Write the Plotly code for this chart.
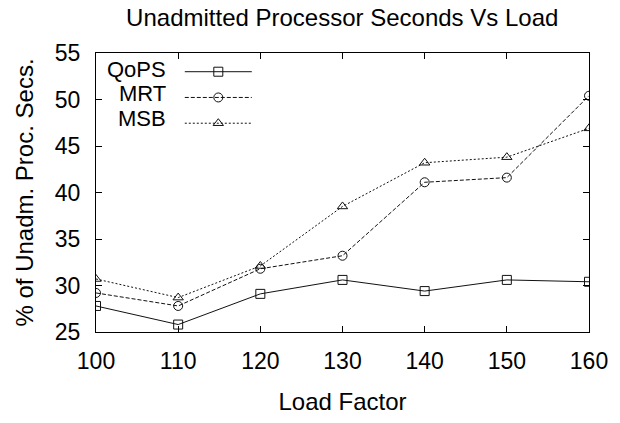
import plotly.graph_objects as go

load_factor = [100, 110, 120, 130, 140, 150, 160]
qops = [27.8, 25.8, 29.1, 30.6, 29.4, 30.6, 30.4]
mrt = [29.2, 27.8, 31.8, 33.2, 41.1, 41.6, 50.4]
msb = [30.7, 28.7, 32.1, 38.5, 43.2, 43.8, 46.9]

series_names = ["QoPS", "MRT", "MSB"]
series_values = [qops, mrt, msb]
symbols = ["square-open", "circle-open", "triangle-up-open"]
dashes = ["solid", "4px,2px", "2px,2px"]

x_ticks = [100, 110, 120, 130, 140, 150, 160]
y_ticks = [25, 30, 35, 40, 45, 50, 55]

FONT = "Liberation Sans, Arial, sans-serif"

fig = go.Figure()
for name, vals, sym, dash in zip(series_names, series_values, symbols, dashes):
    fig.add_trace(go.Scatter(
        x=load_factor, y=vals, name=name, mode="lines+markers",
        line=dict(color="#111", width=1, dash=dash),
        marker=dict(symbol=sym, size=9, color="#111", line=dict(width=1, color="#111")),
    ))

# legend labels (gnuplot style: text right-aligned, sample to the right)
for i, name in enumerate(series_names):
    fig.add_annotation(
        text=name, xref="paper", yref="paper", x=0.146, y=1 - (17.5 + 25.6 * i) / 294,
        xanchor="right", yanchor="middle", showarrow=False,
        font=dict(family=FONT, size=22, color="black"),
    )

fig.update_layout(
    width=620, height=423,
    margin=dict(l=96, r=31, t=53, b=76),
    paper_bgcolor="white", plot_bgcolor="white",
    font=dict(family=FONT, color="black"),
    title=dict(text="Unadmitted Processor Seconds Vs Load", x=0.552, xanchor="center",
               y=0.978, yanchor="top", font=dict(family=FONT, size=24, color="black")),
    showlegend=True,
    legend=dict(x=0.17, y=0.997, xanchor="left", yanchor="top", bgcolor="rgba(0,0,0,0)",
                font=dict(size=17.5, color="rgba(0,0,0,0)"), itemwidth=67,
                tracegroupgap=0),
)
fig.update_xaxes(
    range=[100, 160], tickvals=x_ticks, ticktext=[str(v) for v in x_ticks],
    showgrid=False, zeroline=False, showline=True, linecolor="black", linewidth=1.3,
    mirror="ticks", ticks="inside", ticklen=6, tickcolor="black", tickwidth=1,
    tickfont=dict(family=FONT, size=23), ticklabelstandoff=8,
    title=dict(text="Load Factor", font=dict(family=FONT, size=24), standoff=20),
)
fig.update_yaxes(
    range=[25, 55], tickvals=y_ticks, ticktext=[str(v) for v in y_ticks],
    showgrid=False, zeroline=False, showline=True, linecolor="black", linewidth=1.3,
    mirror="ticks", ticks="inside", ticklen=6, tickcolor="black", tickwidth=1,
    tickfont=dict(family=FONT, size=23), ticklabelstandoff=10,
    title=dict(text="% of Unadm. Proc. Secs.", font=dict(family=FONT, size=24), standoff=14),
)

fig.write_html("out.html", config={"displayModeBar": False},
               post_script="document.body.style.margin='0px';")
